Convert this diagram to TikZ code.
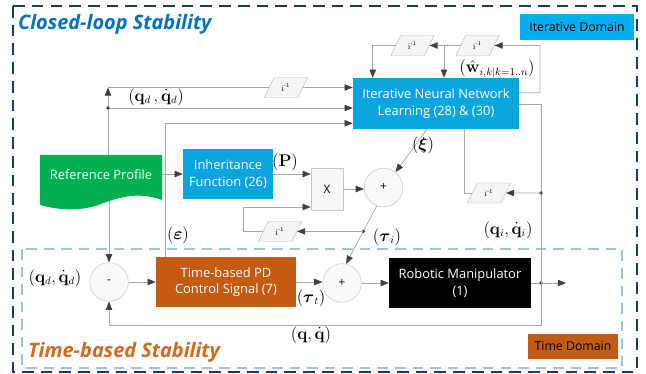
\documentclass[tikz,border=0pt]{standalone}
\usepackage{amsmath}
\usepackage[no-math]{fontspec}
\setmainfont{Open Sans}
\usetikzlibrary{arrows.meta,shapes.geometric,calc}

\definecolor{navy}{HTML}{1F3864}
\definecolor{titleblue}{HTML}{0070C0}
\definecolor{dashblue}{HTML}{9DC3E6}
\definecolor{titleorange}{HTML}{D2691E}
\definecolor{pdorange}{HTML}{C55A11}
\definecolor{inncyan}{HTML}{0AA5DF}
\definecolor{domcyan}{HTML}{00B0F0}
\definecolor{refgreen}{HTML}{00B050}
\definecolor{linegray}{HTML}{A6A6A6}
\definecolor{tipgray}{HTML}{404040}

\tikzset{
  wire/.style={draw=linegray, line width=0.6pt},
  wirearr/.style={wire, -{Triangle[length=7pt,width=5.5pt,color=tipgray]}},
  blk/.style={rectangle, inner sep=2pt, align=center, text=white, font=\fontsize{11}{14}\selectfont},
  sumc/.style={circle, draw=gray!45, fill=gray!5, minimum size=1.16cm, inner sep=0pt, font=\fontsize{10}{12}\selectfont},
  delay/.style={trapezium, trapezium left angle=64, trapezium right angle=116, draw=gray!55, fill=gray!8,
    minimum height=0.6cm, minimum width=1.1cm, inner sep=1pt, font=\fontsize{7}{8}\selectfont},
  mlab/.style={inner sep=0pt, font=\fontsize{13.5}{16}\selectfont},
  dombox/.style={rectangle, inner sep=0pt, font=\fontsize{10.5}{12}\selectfont}
}

\begin{document}
\begin{tikzpicture}[x=0.03cm,y=-0.03cm]
	\useasboundingbox (0,0) rectangle (646,374);

	\draw[navy, line width=2pt, dash pattern=on 10pt off 6pt] (13,6) rectangle (637,372);%Rahmen aussen
	\draw[dashblue, line width=1.2pt, dash pattern=on 9pt off 6pt] (22,249) rectangle (622,368);%Rahmen innen

	\node[anchor=west, text=titleblue, font=\fontsize{17}{20}\selectfont\bfseries\itshape] (clstab) at (14,24) {Closed-loop Stability};
	\node[anchor=west, text=titleorange, font=\fontsize{17}{20}\selectfont\bfseries\itshape] (tbstab) at (24,352) {Time-based Stability};
	\node[dombox, fill=domcyan, minimum width=3.42cm, minimum height=0.78cm] (itdom) at (577,27) {Iterative Domain};
	\node[dombox, fill=pdorange, minimum width=2.7cm, minimum height=0.75cm] (tidom) at (573,346.5) {Time Domain};

	% Bloecke
	\node[blk, minimum width=3.66cm, minimum height=1.17cm] (ref) at (101,174.5) {};
	\node[blk, fill=inncyan, minimum width=2.7cm, minimum height=1.5cm] (inh) at (228,174) {Inheritance\\Function (26)};
	\node[blk, fill=inncyan, minimum width=4.98cm, minimum height=1.53cm] (inn) at (436,103.5) {Iterative Neural Network\\Learning (28) \& (30)};
	\node[rectangle, draw=gray!45, fill=gray!6, minimum width=0.96cm, minimum height=1.26cm, font=\fontsize{10}{12}\selectfont] (mult) at (327,189) {X};
	\node[sumc] (sum1) at (383.5,187.5) {+};
	\node[sumc] (sum2) at (342,283) {+};
	\node[sumc] (diff) at (109,282) {-};
	\node[blk, fill=pdorange, minimum width=4.2cm, minimum height=1.5cm] (pd) at (226,282) {Time-based PD\\Control Signal (7)};
	\node[blk, fill=black, minimum width=4.26cm, minimum height=1.5cm] (rob) at (460,283) {Robotic Manipulator\\(1)};

	% Verzoegerungen
	\node[delay] (d1) at (286,87.5) {$\mathrm{i}^{\text{-}1}$};
	\node[delay] (d2) at (412.5,45.5) {$\mathrm{i}^{\text{-}1}$};
	\node[delay] (d3) at (477.5,45.5) {$\mathrm{i}^{\text{-}1}$};
	\node[delay] (d4) at (489,193) {$\mathrm{i}^{\text{-}1}$};
	\node[delay] (d5) at (280,231.5) {$\mathrm{i}^{\text{-}1}$};

	\coordinate (qd) at (108,108);%Abzweig qd
	\coordinate (qdc) at (108,87.5);
	\coordinate (qout) at (541,283);%Ausgang
	\coordinate (outend) at (566,283);
	\coordinate (qi) at (541,193);
	\coordinate (qitop) at (541,104);
	\coordinate (fbq) at (541,325);
	\coordinate (wtop) at (540,45.5);
	\coordinate (wsplit) at (444,45.5);
	\coordinate (fb) at (243,207);
	\coordinate (tau) at ($(sum1.250)!0.44!(sum2.78)$);

	% Verbindungen
	\draw[wirearr] (qd |- ref.north) -- (qdc);
	\draw[wirearr] (ref.south -| diff.north) -- (diff.north);
	\fill[refgreen] (40,194.5) -- (40,155) -- (162,155) -- (162,200)
		.. controls (140,192) and (122,196) .. (101,204) .. controls (80,212) and (58,210) .. (40,205) -- cycle;%Dokument-Form
	\node[text=white, font=\fontsize{11}{14}\selectfont] (reftxt) at (ref) {Reference Profile};
	\draw[wirearr] (qd) -- (qd -| inn.west);
	\draw[wire] (qdc) -- (d1.west);
	\draw[wirearr] (d1.east) -- (d1 -| inn.west);
	\fill[tipgray] (qd) circle (1.6pt);
	\draw[wirearr] ([xshift=0.3cm]pd.north west) |- ([yshift=0.18cm]inn.south west);%epsilon
	\draw[wirearr] (ref.east |- inh.west) -- (inh.west);
	\draw[wirearr] (inh.east) -- (inh.east -| mult.west);
	\draw[wirearr] (mult.east) -- (mult.east -| sum1.west);
	\draw[wirearr] ([xshift=-0.27cm]inn.south) -- (sum1.52);%xi
	\draw[wirearr] (sum1.250) -- (sum2.78);
	\fill[tipgray] (tau) circle (1.6pt);
	\draw[wirearr] (tau) -- (tau -| d5.east);
	\draw[wirearr] (d5.west) -| (fb) -- (fb -| mult.west);
	\draw[wirearr] (diff.east) -- (pd.west);
	\draw[wirearr] (pd.east) -- (pd.east -| sum2.west);
	\draw[wirearr] (sum2.east) -- (sum2.east -| rob.west);
	\draw[wirearr] (rob.east) -- (outend);
	\fill[tipgray] (qout) circle (1.6pt);
	\draw[wirearr] (qout) -- (fbq) -| (diff.south);%Rueckfuehrung
	\draw[wire] (qout) -- (qitop) -- (qitop -| inn.east);
	\fill[tipgray] (qi) circle (1.6pt);
	\draw[wirearr] (qi) -- (d4.east);
	\draw[wire] (d4.west) -| ([xshift=0.84cm]inn.south);
	\draw[wirearr] ([yshift=0.32cm]inn.east) -| (wtop) -- (d3.east);
	\draw[wirearr] (d3.west) -- (d2.east);
	\draw[wirearr] (wsplit) -- (wsplit |- inn.north);
	\draw[wirearr] (d2.west) -| ([xshift=0.6cm]inn.north west);

	% Beschriftungen
	\node[mlab] (lqd) at (156,97) {$(\mathbf{q}_d\,,\dot{\mathbf{q}}_d)$};
	\node[mlab] (lqd2) at (55,278) {$(\mathbf{q}_d,\dot{\mathbf{q}}_d)$};
	\node[mlab] (lp) at (285,162) {$(\mathbf{P})$};
	\node[mlab] (lxi) at (423,145) {$(\boldsymbol{\xi})$};
	\node[mlab] (ltaui) at (387,237) {$(\boldsymbol{\tau}_i)$};
	\node[mlab] (leps) at (178,235) {$(\boldsymbol{\varepsilon})$};
	\node[mlab] (ltaut) at (311,298) {$(\boldsymbol{\tau}_t)$};
	\node[mlab] (lq) at (311,335) {$(\mathbf{q},\dot{\mathbf{q}})$};
	\node[mlab] (lqi) at (508,230) {$(\mathbf{q}_i,\dot{\mathbf{q}}_i)$};
	\node[mlab] (lw) at (497,69) {$(\hat{\mathbf{w}}_{i,k|k=1..n})$};

\end{tikzpicture}
\end{document}
